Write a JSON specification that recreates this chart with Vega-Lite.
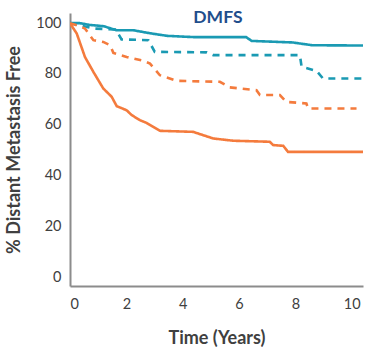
{
  "$schema": "https://vega.github.io/schema/vega-lite/v6.json",
  "width": 293,
  "height": 273,
  "autosize": {"type": "none"},
  "padding": {"left": 70, "top": 13, "right": 3, "bottom": 61},
  "background": "white",
  "config": {
    "view": {"stroke": null},
    "font": "Lato",
    "axis": {"grid": false, "ticks": false, "domainColor": "#8c8c8c", "domainWidth": 2, "labelColor": "#404040", "titleColor": "#404040", "labelFont": "Lato", "titleFont": "Lato", "labelFontSize": 14.5, "titleFontSize": 18, "titleFontWeight": "bold"}
  },
  "layer": [
    {
      "data": {"values": [
        {"series": "Blue solid", "t": 0, "s": 100},
        {"series": "Blue solid", "t": 0.35, "s": 100},
        {"series": "Blue solid", "t": 0.7, "s": 99.3},
        {"series": "Blue solid", "t": 1.2, "s": 98.8},
        {"series": "Blue solid", "t": 1.65, "s": 97.2},
        {"series": "Blue solid", "t": 2.25, "s": 97.2},
        {"series": "Blue solid", "t": 2.85, "s": 96},
        {"series": "Blue solid", "t": 3.45, "s": 95},
        {"series": "Blue solid", "t": 4.4, "s": 94.5},
        {"series": "Blue solid", "t": 6.25, "s": 94.5},
        {"series": "Blue solid", "t": 6.45, "s": 93},
        {"series": "Blue solid", "t": 7.9, "s": 92.4},
        {"series": "Blue solid", "t": 8.6, "s": 91.3},
        {"series": "Blue solid", "t": 10.4, "s": 91.2},
        {"series": "Blue dashed", "t": 0, "s": 100},
        {"series": "Blue dashed", "t": 0.83, "s": 97.9},
        {"series": "Blue dashed", "t": 1.6, "s": 97.5},
        {"series": "Blue dashed", "t": 1.71, "s": 95.9},
        {"series": "Blue dashed", "t": 1.83, "s": 93.6},
        {"series": "Blue dashed", "t": 2.78, "s": 93.3},
        {"series": "Blue dashed", "t": 3.01, "s": 88.7},
        {"series": "Blue dashed", "t": 4.85, "s": 88.5},
        {"series": "Blue dashed", "t": 5.08, "s": 87.4},
        {"series": "Blue dashed", "t": 8.16, "s": 87.4},
        {"series": "Blue dashed", "t": 8.22, "s": 82.8},
        {"series": "Blue dashed", "t": 8.75, "s": 81.2},
        {"series": "Blue dashed", "t": 8.98, "s": 78.2},
        {"series": "Blue dashed", "t": 10.4, "s": 78.2},
        {"series": "Orange dashed", "t": 0, "s": 100},
        {"series": "Orange dashed", "t": 0.24, "s": 99.2},
        {"series": "Orange dashed", "t": 0.53, "s": 97.9},
        {"series": "Orange dashed", "t": 0.83, "s": 93.3},
        {"series": "Orange dashed", "t": 1.18, "s": 92.6},
        {"series": "Orange dashed", "t": 1.42, "s": 91.3},
        {"series": "Orange dashed", "t": 1.54, "s": 88.3},
        {"series": "Orange dashed", "t": 2.01, "s": 86.7},
        {"series": "Orange dashed", "t": 2.6, "s": 85.2},
        {"series": "Orange dashed", "t": 2.84, "s": 84.1},
        {"series": "Orange dashed", "t": 3.19, "s": 79.5},
        {"series": "Orange dashed", "t": 3.78, "s": 77.3},
        {"series": "Orange dashed", "t": 5.32, "s": 76.9},
        {"series": "Orange dashed", "t": 5.67, "s": 74.7},
        {"series": "Orange dashed", "t": 6.62, "s": 73.6},
        {"series": "Orange dashed", "t": 6.74, "s": 71.7},
        {"series": "Orange dashed", "t": 7.45, "s": 71.7},
        {"series": "Orange dashed", "t": 7.68, "s": 69},
        {"series": "Orange dashed", "t": 8.39, "s": 68.4},
        {"series": "Orange dashed", "t": 8.45, "s": 66.4},
        {"series": "Orange dashed", "t": 10.17, "s": 66.4},
        {"series": "Orange solid", "t": 0, "s": 100},
        {"series": "Orange solid", "t": 0.24, "s": 95.9},
        {"series": "Orange solid", "t": 0.53, "s": 86.7},
        {"series": "Orange solid", "t": 0.83, "s": 80.8},
        {"series": "Orange solid", "t": 1.18, "s": 74.3},
        {"series": "Orange solid", "t": 1.48, "s": 71},
        {"series": "Orange solid", "t": 1.66, "s": 67.3},
        {"series": "Orange solid", "t": 2.01, "s": 65.7},
        {"series": "Orange solid", "t": 2.19, "s": 63.8},
        {"series": "Orange solid", "t": 2.48, "s": 61.8},
        {"series": "Orange solid", "t": 2.72, "s": 60.7},
        {"series": "Orange solid", "t": 3.19, "s": 57.6},
        {"series": "Orange solid", "t": 4.37, "s": 57.2},
        {"series": "Orange solid", "t": 5.08, "s": 54.6},
        {"series": "Orange solid", "t": 5.79, "s": 53.7},
        {"series": "Orange solid", "t": 7.09, "s": 53.3},
        {"series": "Orange solid", "t": 7.21, "s": 52},
        {"series": "Orange solid", "t": 7.57, "s": 51.7},
        {"series": "Orange solid", "t": 7.74, "s": 49.3},
        {"series": "Orange solid", "t": 10.4, "s": 49.3}
      ]},
      "mark": {"type": "line", "strokeWidth": 2.6, "clip": true},
      "encoding": {
        "x": {"field": "t", "type": "quantitative", "scale": {"domain": [0, 10.4], "nice": false}, "axis": {"values": [0, 2, 4, 6, 8, 10], "title": "Time (Years)", "labelPadding": 11, "titlePadding": 19}},
        "y": {"field": "s", "type": "quantitative", "scale": {"domain": [-3.5, 104], "nice": false}, "axis": {"values": [0, 20, 40, 60, 80, 100], "title": "% Distant Metastasis Free", "labelPadding": 9, "titlePadding": 12}},
        "color": {"field": "series", "type": "nominal", "scale": {"domain": ["Blue solid", "Blue dashed", "Orange dashed", "Orange solid"], "range": ["#1a9ab3", "#1a9ab3", "#f47b3d", "#f47b3d"]}, "legend": null},
        "strokeDash": {"field": "series", "type": "nominal", "scale": {"domain": ["Blue solid", "Blue dashed", "Orange dashed", "Orange solid"], "range": [[1, 0], [7, 6], [7, 6], [1, 0]]}, "legend": null}
      }
    },
    {
      "data": {"values": [{"label": "DMFS", "t": 5.25, "s": 102}]},
      "mark": {"type": "text", "font": "Lato", "fontSize": 17.5, "fontWeight": "bold", "color": "#1f4e8c", "align": "center", "baseline": "middle"},
      "encoding": {
        "x": {"field": "t", "type": "quantitative"},
        "y": {"field": "s", "type": "quantitative"},
        "text": {"field": "label"}
      }
    }
  ]
}
